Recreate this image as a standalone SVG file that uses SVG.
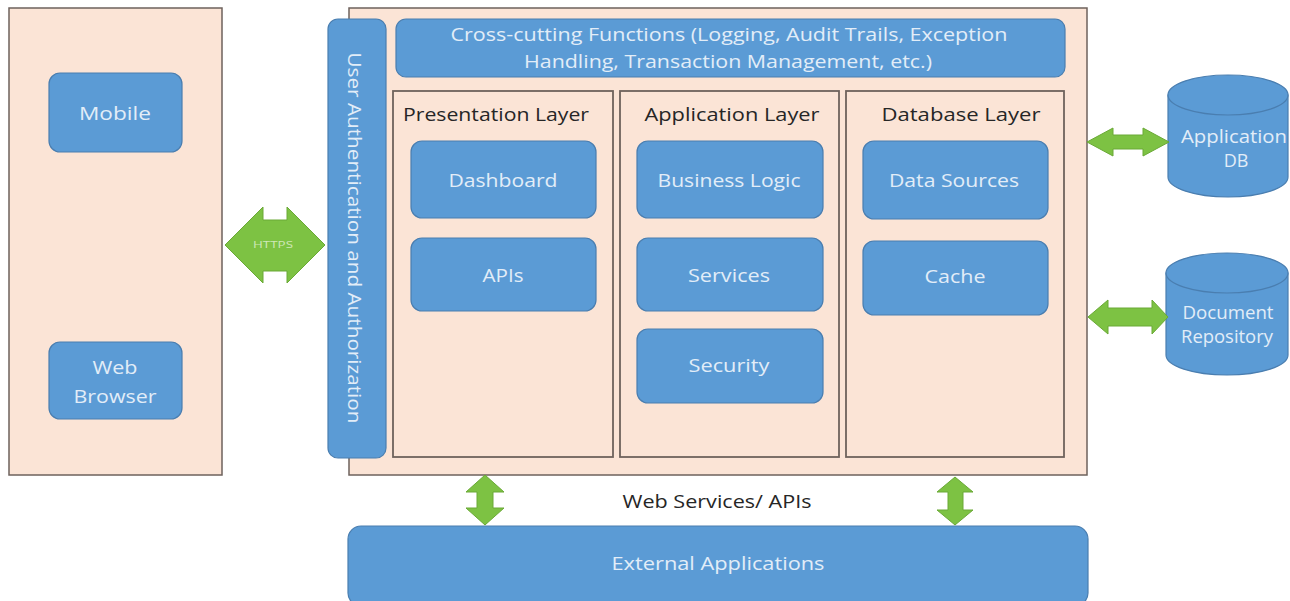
<svg xmlns="http://www.w3.org/2000/svg" width="1290" height="601" viewBox="0 0 1290 601">
  <style>
    .panel { fill: #fbe4d6; stroke: #6e625c; stroke-width: 1.5; }
    .layer { fill: #fbe4d6; stroke: #6e625c; stroke-width: 1.8; }
    .box { fill: #5b9bd5; stroke: #4a7eb0; stroke-width: 1.2; }
    .lbl { fill: #e2edf8; font-family: "Open Sans", "Liberation Sans", sans-serif; font-size: 18px; text-anchor: middle; }
    .title { fill: #262626; font-family: "Open Sans", "Liberation Sans", sans-serif; font-size: 18px; text-anchor: middle; }
    .arrow { fill: #7dc243; stroke: #6aa936; stroke-width: 1; }
    .small { fill: #cfe8b8; font-family: "Open Sans", "Liberation Sans", sans-serif; font-size: 9px; text-anchor: middle; }
  </style>
  <rect width="1290" height="601" fill="#ffffff"/>

  <!-- client side -->
  <g id="clients">
    <rect class="panel" x="9" y="8" width="213" height="467"/>
  </g>
  <g id="mobile">
    <rect class="box" x="49" y="73" width="133" height="79" rx="11"/>
    <text class="lbl" x="115" y="120" textLength="72" lengthAdjust="spacingAndGlyphs">Mobile</text>
  </g>
  <g id="web-browser">
    <rect class="box" x="49" y="342" width="133" height="77" rx="11"/>
    <text class="lbl" x="115" y="374" textLength="45" lengthAdjust="spacingAndGlyphs">Web</text>
    <text class="lbl" x="115" y="403" textLength="83" lengthAdjust="spacingAndGlyphs">Browser</text>
  </g>

  <!-- server side -->
  <g id="server">
    <rect class="panel" x="349" y="8" width="738" height="467"/>
  </g>
  <g id="auth">
    <rect class="box" x="328" y="19" width="58" height="439" rx="10"/>
    <text class="lbl" transform="translate(348 238) rotate(90)" x="0" y="0" textLength="371" lengthAdjust="spacingAndGlyphs">User Authentication and Authorization</text>
  </g>
  <g id="cross-cutting">
    <rect class="box" x="396" y="19" width="669" height="58" rx="10"/>
    <text class="lbl" x="729" y="41" textLength="557" lengthAdjust="spacingAndGlyphs">Cross-cutting Functions (Logging, Audit Trails, Exception</text>
    <text class="lbl" x="728" y="68" textLength="408" lengthAdjust="spacingAndGlyphs">Handling, Transaction Management, etc.)</text>
  </g>

  <g id="presentation-layer">
    <rect class="layer" x="393" y="91" width="220" height="366"/>
    <text class="title" x="496" y="121" textLength="186" lengthAdjust="spacingAndGlyphs">Presentation Layer</text>
  </g>
  <g id="dashboard">
    <rect class="box" x="411" y="141" width="185" height="77" rx="11"/>
    <text class="lbl" x="503" y="187" textLength="109" lengthAdjust="spacingAndGlyphs">Dashboard</text>
  </g>
  <g id="apis">
    <rect class="box" x="411" y="238" width="185" height="73" rx="11"/>
    <text class="lbl" x="503" y="282" textLength="41" lengthAdjust="spacingAndGlyphs">APIs</text>
  </g>

  <g id="application-layer">
    <rect class="layer" x="620" y="91" width="219" height="366"/>
    <text class="title" x="732" y="121" textLength="175" lengthAdjust="spacingAndGlyphs">Application Layer</text>
  </g>
  <g id="business-logic">
    <rect class="box" x="637" y="141" width="186" height="77" rx="11"/>
    <text class="lbl" x="729" y="187" textLength="143" lengthAdjust="spacingAndGlyphs">Business Logic</text>
  </g>
  <g id="services">
    <rect class="box" x="637" y="238" width="186" height="73" rx="11"/>
    <text class="lbl" x="729" y="282" textLength="82" lengthAdjust="spacingAndGlyphs">Services</text>
  </g>
  <g id="security">
    <rect class="box" x="637" y="329" width="186" height="74" rx="11"/>
    <text class="lbl" x="729" y="372" textLength="81" lengthAdjust="spacingAndGlyphs">Security</text>
  </g>

  <g id="database-layer">
    <rect class="layer" x="846" y="91" width="218" height="366"/>
    <text class="title" x="961" y="121" textLength="159" lengthAdjust="spacingAndGlyphs">Database Layer</text>
  </g>
  <g id="data-sources">
    <rect class="box" x="863" y="141" width="185" height="78" rx="11"/>
    <text class="lbl" x="954" y="187" textLength="130" lengthAdjust="spacingAndGlyphs">Data Sources</text>
  </g>
  <g id="cache">
    <rect class="box" x="863" y="241" width="185" height="74" rx="11"/>
    <text class="lbl" x="955" y="283" textLength="61" lengthAdjust="spacingAndGlyphs">Cache</text>
  </g>

  <!-- data stores -->
  <g id="application-db">
    <path class="box" d="M1168,95 V177 A60,20 0 0 0 1288,177 V95 Z"/>
    <ellipse class="box" cx="1228" cy="95" rx="60" ry="20"/>
    <text class="lbl" x="1234" y="143" font-size="17" textLength="106" lengthAdjust="spacingAndGlyphs">Application</text>
    <text class="lbl" x="1236" y="167" font-size="16">DB</text>
  </g>
  <g id="document-repository">
    <path class="box" d="M1166,273 V355 A61,20 0 0 0 1288,355 V273 Z"/>
    <ellipse class="box" cx="1227" cy="273" rx="61" ry="20"/>
    <text class="lbl" x="1228" y="319" font-size="17" textLength="91" lengthAdjust="spacingAndGlyphs">Document</text>
    <text class="lbl" x="1227" y="343" font-size="17" textLength="92" lengthAdjust="spacingAndGlyphs">Repository</text>
  </g>

  <!-- external -->
  <g id="external-applications">
    <rect class="box" x="348" y="526" width="740" height="80" rx="13"/>
    <text class="lbl" x="718" y="570" textLength="213" lengthAdjust="spacingAndGlyphs">External Applications</text>
  </g>

  <!-- connectors -->
  <g id="connectors">
    <g id="https-link">
      <polygon class="arrow" points="225,245 263,207 263,220 287,220 287,207 325,245 287,283 287,271 263,271 263,283"/>
      <text class="small" x="273" y="248" textLength="40" lengthAdjust="spacingAndGlyphs">HTTPS</text>
    </g>
    <polygon id="db-link" class="arrow" points="1087,142 1113,128 1113,135 1143,135 1143,128 1169,142 1143,156 1143,149 1113,149 1113,156"/>
    <polygon id="repo-link" class="arrow" points="1088,317 1108,300 1108,308 1152,308 1152,300 1168,317 1152,334 1152,326 1108,326 1108,334"/>
    <polygon id="ext-link-left" class="arrow" points="485,475 504,492 493,492 493,508 504,508 485,525 466,508 477,508 477,492 466,492"/>
    <polygon id="ext-link-right" class="arrow" points="955,477 973,492 963,492 963,510 973,510 955,525 937,510 948,510 948,492 937,492"/>
    <text class="title" x="717" y="508" textLength="189" lengthAdjust="spacingAndGlyphs">Web Services/ APIs</text>
  </g>
</svg>
